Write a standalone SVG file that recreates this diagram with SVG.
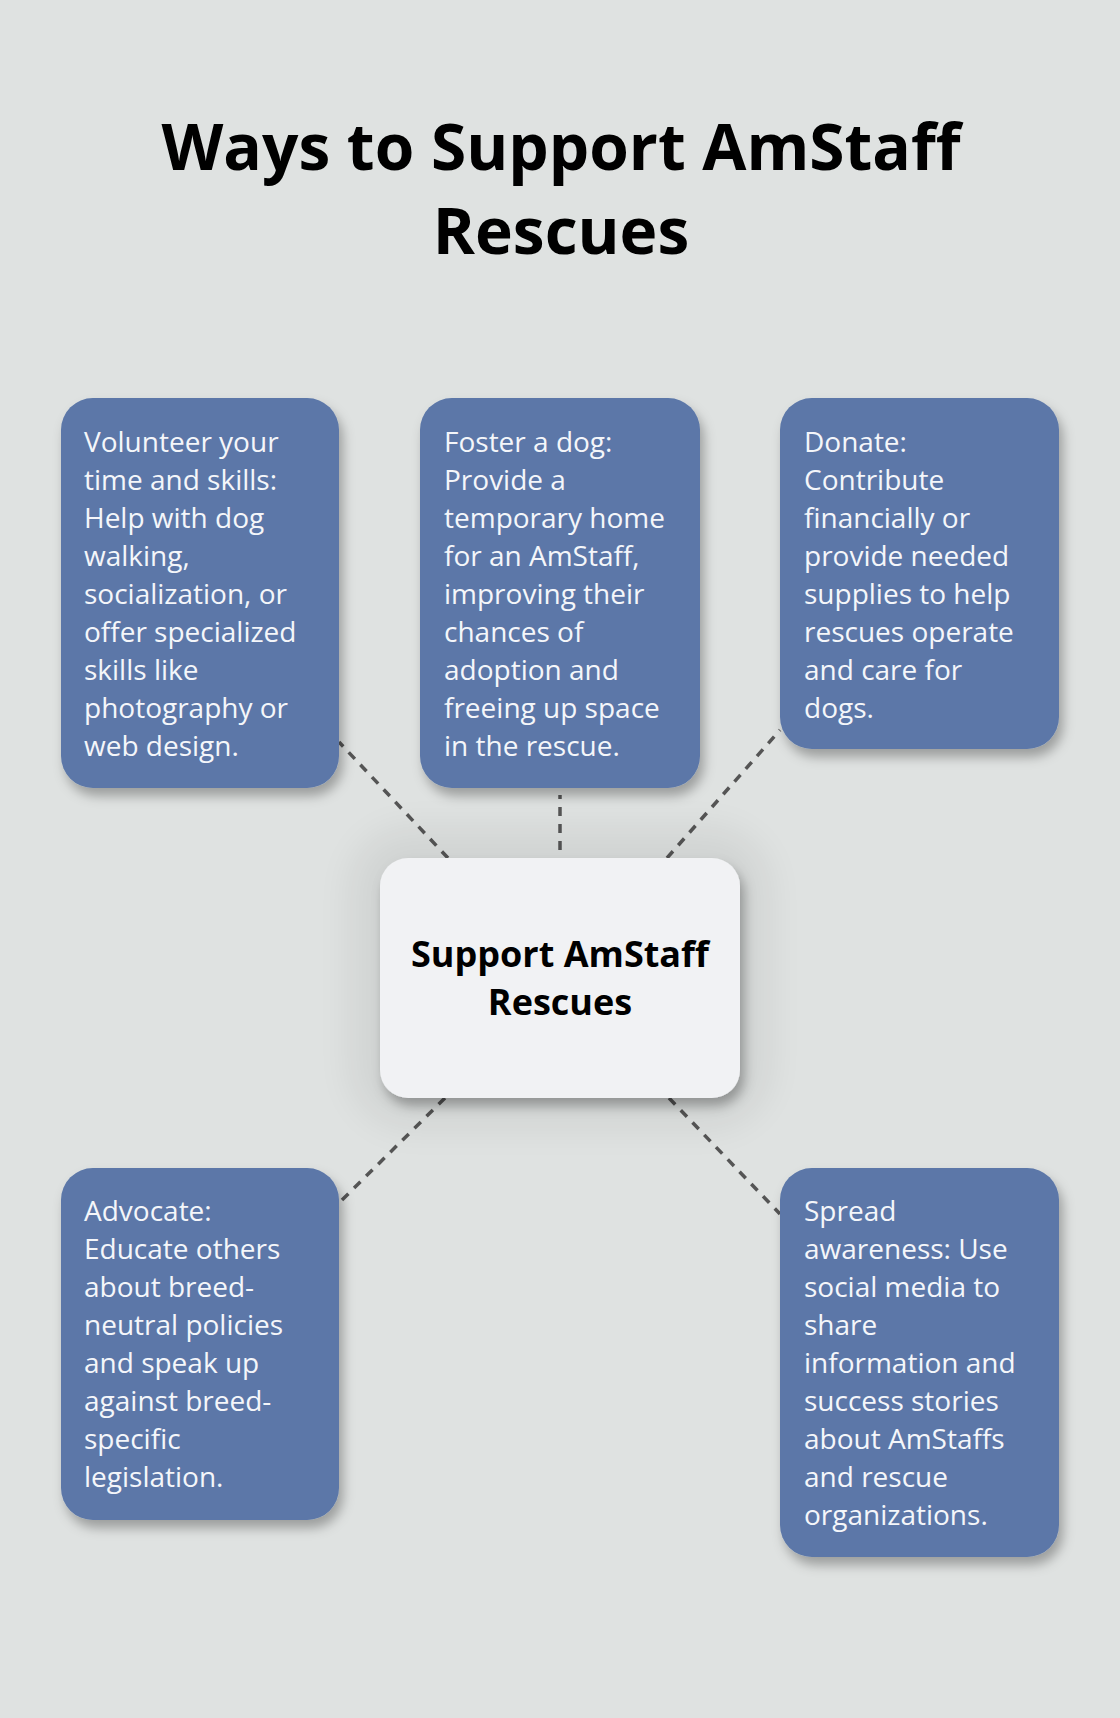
<svg xmlns="http://www.w3.org/2000/svg" width="1120" height="1718" viewBox="0 0 1120 1718">
<defs>
<filter id="sh" x="-20%" y="-20%" width="150%" height="150%">
<feDropShadow dx="4" dy="8" stdDeviation="6" flood-color="#000" flood-opacity="0.3"/>
</filter>
<filter id="halo" x="-40%" y="-40%" width="180%" height="180%">
<feGaussianBlur stdDeviation="18"/>
</filter>
</defs>
<style>
.bg{fill:#dfe2e1}
.card{fill:#5b77a8}
.ct{font-family:"Open Sans","Liberation Sans",sans-serif;font-size:28px;fill:#f4f6fa}
.title{font-family:"Open Sans","Liberation Sans",sans-serif;font-weight:700;font-size:64px;fill:#000;text-anchor:middle}
.center{fill:#f1f2f4}
.cl{font-family:"Open Sans","Liberation Sans",sans-serif;font-weight:700;font-size:36px;fill:#000;text-anchor:middle}
.conn{stroke:#555;stroke-width:3.5;stroke-dasharray:9 8;fill:none}
</style>
<rect class="bg" x="0" y="0" width="1120" height="1718"/>
<g id="title">
<text class="title" x="561" y="170">Ways to Support AmStaff</text>
<text class="title" x="561" y="254">Rescues</text>
</g>
<g id="connectors">
<line class="conn" x1="448" y1="858" x2="339" y2="742"/>
<line class="conn" x1="560" y1="850" x2="560" y2="795"/>
<line class="conn" x1="667" y1="858" x2="780" y2="730"/>
<line class="conn" x1="445" y1="1098" x2="339" y2="1203"/>
<line class="conn" x1="669" y1="1098" x2="780" y2="1214"/>
</g>
<g id="center">
<rect x="350" y="828" width="420" height="300" rx="60" fill="#000" opacity="0.06" filter="url(#halo)"/>
<rect class="center" x="380" y="858" width="360" height="240" rx="28" filter="url(#sh)"/>
<text class="cl" x="560" y="967">Support AmStaff</text>
<text class="cl" x="560" y="1015">Rescues</text>
</g>
<g id="volunteer">
<rect class="card" x="61" y="398" width="278" height="390" rx="32" filter="url(#sh)"/>
<text class="ct" x="84" y="452">Volunteer your</text>
<text class="ct" x="84" y="490">time and skills:</text>
<text class="ct" x="84" y="528">Help with dog</text>
<text class="ct" x="84" y="566">walking,</text>
<text class="ct" x="84" y="604">socialization, or</text>
<text class="ct" x="84" y="642">offer specialized</text>
<text class="ct" x="84" y="680">skills like</text>
<text class="ct" x="84" y="718">photography or</text>
<text class="ct" x="84" y="756">web design.</text>
</g>
<g id="foster">
<rect class="card" x="420" y="398" width="280" height="390" rx="32" filter="url(#sh)"/>
<text class="ct" x="444" y="452">Foster a dog:</text>
<text class="ct" x="444" y="490">Provide a</text>
<text class="ct" x="444" y="528">temporary home</text>
<text class="ct" x="444" y="566">for an AmStaff,</text>
<text class="ct" x="444" y="604">improving their</text>
<text class="ct" x="444" y="642">chances of</text>
<text class="ct" x="444" y="680">adoption and</text>
<text class="ct" x="444" y="718">freeing up space</text>
<text class="ct" x="444" y="756">in the rescue.</text>
</g>
<g id="donate">
<rect class="card" x="780" y="398" width="279" height="351" rx="32" filter="url(#sh)"/>
<text class="ct" x="804" y="452">Donate:</text>
<text class="ct" x="804" y="490">Contribute</text>
<text class="ct" x="804" y="528">financially or</text>
<text class="ct" x="804" y="566">provide needed</text>
<text class="ct" x="804" y="604">supplies to help</text>
<text class="ct" x="804" y="642">rescues operate</text>
<text class="ct" x="804" y="680">and care for</text>
<text class="ct" x="804" y="718">dogs.</text>
</g>
<g id="advocate">
<rect class="card" x="61" y="1168" width="278" height="352" rx="32" filter="url(#sh)"/>
<text class="ct" x="84" y="1221">Advocate:</text>
<text class="ct" x="84" y="1259">Educate others</text>
<text class="ct" x="84" y="1297">about breed-</text>
<text class="ct" x="84" y="1335">neutral policies</text>
<text class="ct" x="84" y="1373">and speak up</text>
<text class="ct" x="84" y="1411">against breed-</text>
<text class="ct" x="84" y="1449">specific</text>
<text class="ct" x="84" y="1487">legislation.</text>
</g>
<g id="awareness">
<rect class="card" x="780" y="1168" width="279" height="389" rx="32" filter="url(#sh)"/>
<text class="ct" x="804" y="1221">Spread</text>
<text class="ct" x="804" y="1259">awareness: Use</text>
<text class="ct" x="804" y="1297">social media to</text>
<text class="ct" x="804" y="1335">share</text>
<text class="ct" x="804" y="1373">information and</text>
<text class="ct" x="804" y="1411">success stories</text>
<text class="ct" x="804" y="1449">about AmStaffs</text>
<text class="ct" x="804" y="1487">and rescue</text>
<text class="ct" x="804" y="1525">organizations.</text>
</g>
</svg>
